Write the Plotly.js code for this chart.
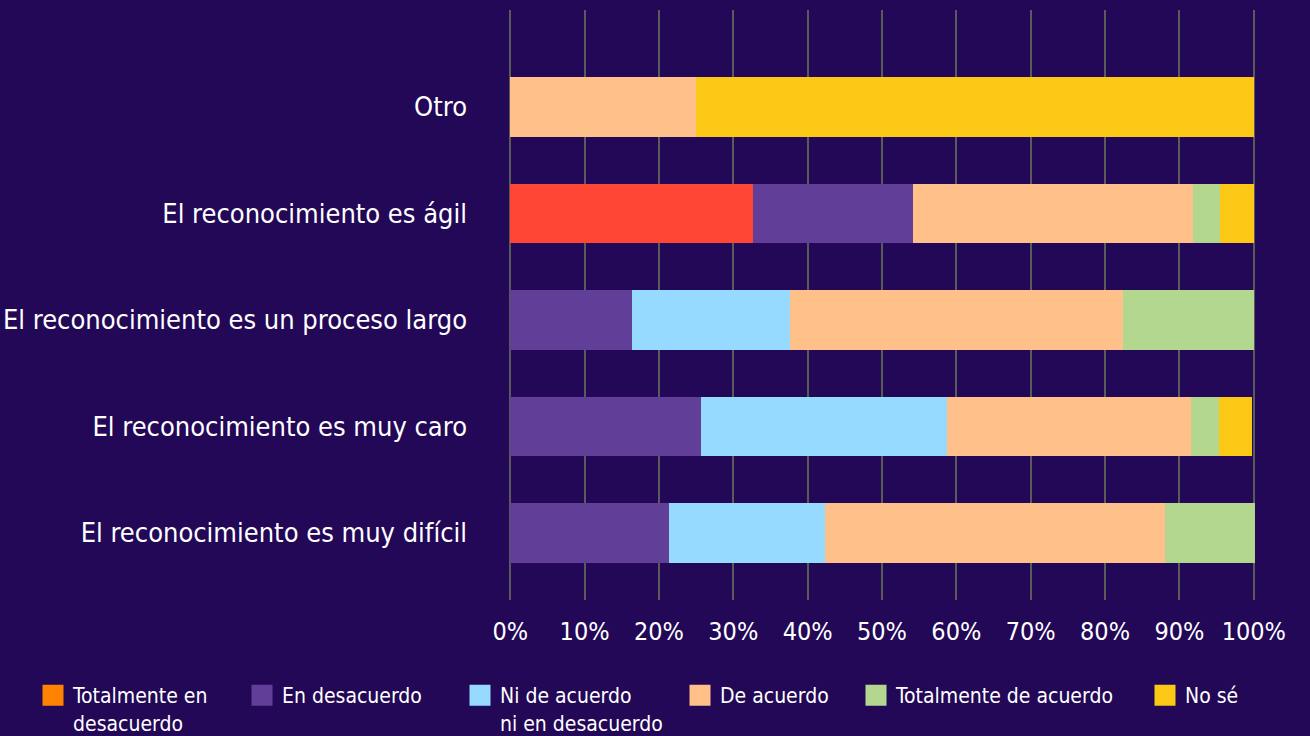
<!DOCTYPE html>
<html>
<head>
<meta charset="utf-8">
<script src="https://cdn.plot.ly/plotly-3.0.1.min.js"></script>
<style>
  html, body { margin: 0; padding: 0; background: #220856; }
  #chart { width: 1310px; height: 736px; }
</style>
</head>
<body>
<div id="chart"></div>
<script>
// categories, bottom to top
var categories = [
    'El reconocimiento es muy difícil',
    'El reconocimiento es muy caro',
    'El reconocimiento es un proceso largo',
    'El reconocimiento es ágil',
    'Otro'
];

var seriesNames = [
    'Totalmente en<br>desacuerdo',
    'En desacuerdo',
    'Ni de acuerdo<br>ni en desacuerdo',
    'De acuerdo',
    'Totalmente de acuerdo',
    'No sé'
];

// percentages per category
var totalmenteEnDesacuerdo = [0, 0, 0, 32.7, 0];
var enDesacuerdo = [21.4, 25.7, 16.4, 21.5, 0];
var niDeAcuerdo = [20.9, 33.1, 21.2, 0, 0];
var deAcuerdo = [45.8, 32.7, 44.8, 37.6, 25];
var totalmenteDeAcuerdo = [12.0, 3.8, 17.6, 3.7, 0];
var noSe = [0, 4.5, 0, 4.5, 75];

var xTicks = [0, 10, 20, 30, 40, 50, 60, 70, 80, 90, 100];

var values = [totalmenteEnDesacuerdo, enDesacuerdo, niDeAcuerdo, deAcuerdo, totalmenteDeAcuerdo, noSe];
var barColors = ['#ff4635', '#613f99', '#97daff', '#ffc08a', '#b3d78f', '#fbc816'];
var legendColors = ['#ff8200', '#613f99', '#97daff', '#ffc08a', '#b3d78f', '#fbc816'];
var legendX = [33, 242, 460, 680, 856, 1145];

var FONT = '"Liberation Sans Narrow", "DejaVu Sans Condensed", Roboto, sans-serif';

var data = [];
values.forEach(function(v, i) {
    data.push({
        type: 'bar',
        orientation: 'h',
        y: categories,
        x: v,
        name: seriesNames[i],
        marker: { color: barColors[i], line: { width: 0 } },
        showlegend: false,
        hoverinfo: 'x+name'
    });
});

// legend-only entries (one legend each, so they can be placed freely)
var layoutLegends = {};
seriesNames.forEach(function(n, i) {
    var key = i === 0 ? 'legend' : 'legend' + (i + 1);
    data.push({
        type: 'scatter',
        mode: 'markers',
        x: [null],
        y: [null],
        name: n,
        legend: key,
        marker: { symbol: 'square', size: 16, color: legendColors[i],
                  line: { color: legendColors[i], width: 5 } },
        showlegend: true,
        hoverinfo: 'skip'
    });
    layoutLegends[key] = {
        xref: 'container', yref: 'container',
        x: legendX[i] / 1310, y: 1 - 675 / 736,
        xanchor: 'left', yanchor: 'top',
        orientation: 'h',
        valign: 'top',
        bgcolor: 'rgba(0,0,0,0)',
        font: { family: FONT, size: 21, color: '#ffffff' },
        itemclick: false, itemdoubleclick: false
    };
});

var layout = {
    width: 1310,
    height: 736,
    paper_bgcolor: '#220856',
    plot_bgcolor: '#220856',
    barmode: 'stack',
    bargap: 0.44,
    margin: { l: 508, r: 54, t: 10, b: 136 },
    font: { family: FONT, color: '#ffffff' },
    xaxis: {
        range: [-0.3, 100.3],
        tickvals: xTicks,
        ticktext: xTicks.map(function(t) { return t + '%'; }),
        showgrid: true,
        gridcolor: '#5a5a5a',
        gridwidth: 2,
        zeroline: false,
        showline: false,
        ticks: '',
        ticklabelstandoff: 14,
        tickfont: { family: FONT, size: 25, color: '#ffffff' },
        fixedrange: true
    },
    yaxis: {
        type: 'category',
        range: [-0.63, 4.91],
        showgrid: false,
        zeroline: false,
        showline: false,
        ticks: '',
        ticklabelstandoff: 40,
        tickfont: { family: FONT, size: 27, color: '#ffffff' },
        fixedrange: true
    },
    hovermode: 'closest'
};
Object.assign(layout, layoutLegends);

Plotly.newPlot('chart', data, layout, { displayModeBar: false, responsive: false });
</script>
</body>
</html>
